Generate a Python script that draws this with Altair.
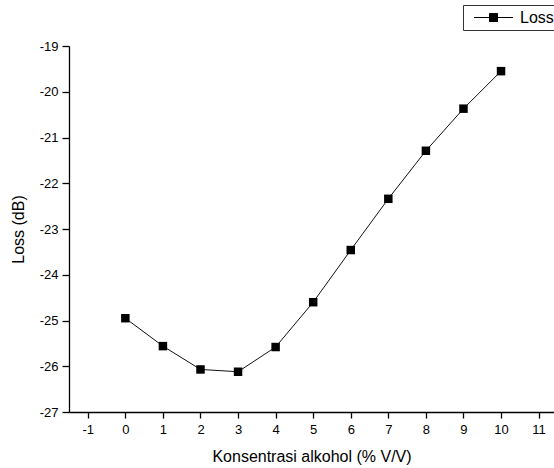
import altair as alt
import pandas as pd

# Alcohol concentration (% V/V) and measured loss (dB)
konsentrasi = [0, 1, 2, 3, 4, 5, 6, 7, 8, 9, 10]
loss_db = [-24.95, -25.56, -26.07, -26.12, -25.58, -24.60, -23.46, -22.34, -21.29, -20.37, -19.55]
series_name = ["Loss"]

x_ticks = [v / 2 for v in range(-2, 23)]      # -1 .. 11, major + minor
y_ticks = [v / 2 for v in range(-54, -37)]    # -27 .. -19, major + minor

df = pd.DataFrame({"konsentrasi": konsentrasi, "loss": loss_db, "series": series_name[0]})

FONT = "Liberation Sans"
minor_test = "datum.value % 1 !== 0"
# whole numbers only, written with a plain hyphen
label_expr = "datum.value % 1 === 0 ? (datum.value < 0 ? '-' : '') + abs(datum.value) : ''"

x_enc = alt.X(
    "konsentrasi:Q",
    scale=alt.Scale(domain=[-1.5, 11.41], nice=False, zero=False),
    axis=alt.Axis(
        title="Konsentrasi alkohol (% V/V)",
        values=x_ticks,
        labelExpr=label_expr,
        tickSize={"condition": {"test": minor_test, "value": 3}, "value": 6},
        labelOverlap=False,
        labelFlush=False,
        labelBound=False,
        grid=False,
        labelPadding=5,
        titlePadding=12,
    ),
)
y_enc = alt.Y(
    "loss:Q",
    scale=alt.Scale(domain=[-27, -19], nice=False, zero=False),
    axis=alt.Axis(
        title="Loss (dB)",
        values=y_ticks,
        labelExpr=label_expr,
        tickSize={"condition": {"test": minor_test, "value": 4}, "value": 7},
        labelOverlap=False,
        labelFlush=False,
        labelBound=False,
        grid=False,
        labelPadding=4,
        titlePadding=13,
    ),
)

line = alt.Chart(df).mark_line(color="#111111", strokeWidth=1).encode(x=x_enc, y=y_enc)

points = alt.Chart(df).mark_point(
    shape="square", filled=True, size=72, opacity=1, color="black"
).encode(x="konsentrasi:Q", y="loss:Q")

# legend entry: line - square - line (square closely hatched so it reads as solid)
hatch = "".join(f"M-0.5,{y / 8:.3f}H0.5" for y in range(-4, 5))
legend_symbol = "M-2.44,0H2.44M-0.5,-0.5H0.5V0.5H-0.5Z" + hatch
legend_layer = (
    alt.Chart(df)
    .transform_filter("false")
    .mark_point(filled=False, color="black", strokeWidth=1, opacity=1)
    .encode(
        shape=alt.Shape(
            "series:N",
            scale=alt.Scale(domain=series_name, range=[legend_symbol]),
            legend=alt.Legend(
                title=None,
                orient="none",
                legendX=394,
                legendY=-41,
                symbolSize=256,
                symbolFillColor="black",
                symbolStrokeColor="black",
                symbolStrokeWidth=1,
                symbolOpacity=1,
                symbolOffset=18,
                labelOffset=18,
                labelFontSize=16,
                labelFont=FONT,
                labelColor="black",
                strokeColor="#333333",
                fillColor="white",
                padding=4,
            ),
        )
    )
)

chart = (
    alt.layer(line, points, legend_layer)
    .properties(
        width=485,
        height=366,
        autosize=alt.AutoSizeParams(type="none"),
        padding={"left": 69, "top": 46, "right": 0, "bottom": 56},
    )
    .configure_view(stroke=None)
    .configure_axis(
        domainColor="black",
        tickColor="black",
        domainWidth=1.3,
        tickWidth=1.3,
        labelFont=FONT,
        labelFontSize=13,
        labelColor="black",
        titleFont=FONT,
        titleFontSize=16,
        titleFontWeight="normal",
        titleColor="black",
    )
)

chart.save("out.html", embed_options={"renderer": "svg", "actions": False})
